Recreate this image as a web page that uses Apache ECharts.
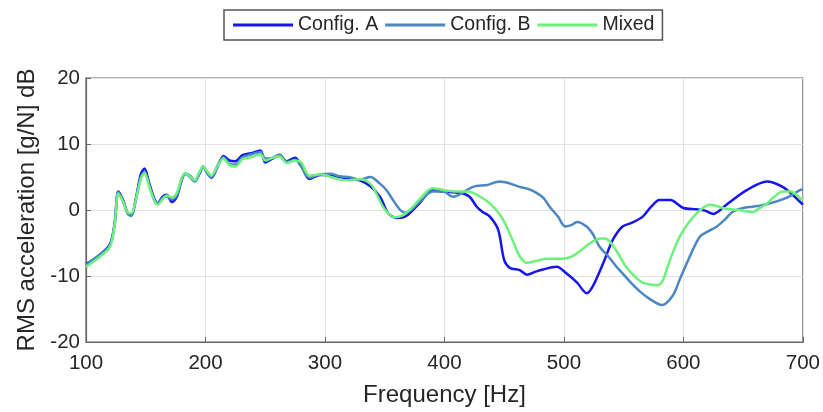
<!DOCTYPE html>
<html>
<head>
    <meta charset="utf-8">
    <title>RMS acceleration</title>
    <script src="https://cdn.jsdelivr.net/npm/echarts@6/dist/echarts.min.js"></script>
</head>
<body style="margin:0;background:#fff">

    <div id="chart" style="width:823px;height:412px;"></div>

    <script type="text/javascript">

        // Config. A
        var freqA = [100,110,120,124,127,131,135,138,142,146,149,153,157,160,164,167.5,172,176,180,183,187,191,195,198,202,205,210,215,220,225,231,238,246,250,256,262,268,275,280,287,296,305,312,320,329,338,346,353,360,368,379,390,399,413,421,427,432,438,445,450,455,463,469,477,494,502,511,519,524,533,541,549,556,566,573,580,589,600,611,618,625,636,653,670,683,692,700];
        var valA = [-8.2,-7,-5.2,-2,2.8,1.5,-0.5,-0.8,2,5.5,6.3,4,1.8,1,2,2.3,1.2,2,4.5,5.5,5.2,4.4,5.5,6.6,5.5,4.9,6.5,8.2,7.5,7.4,8.3,8.6,9,7.2,7.8,8.3,7.4,7.9,6.8,4.7,5.3,5.3,5,4.8,4.5,3.6,2,-0.5,-1.2,-0.9,1,3,2.8,2.6,2,0.5,-0.3,-1,-3,-7.6,-8.8,-9.1,-9.8,-9.3,-8.6,-9.6,-11,-12.6,-11.6,-8,-4.5,-2.5,-2,-1,0.5,1.5,1.5,0.3,0.1,-0.1,-0.6,0.8,3,4.3,3.5,2.2,0.8];

        // Config. B
        var freqB = [100,110,120,124,127,131,135,138,142,146,149,153,157,160,164,167.5,172,176,180,183,187,191,195,198,202,205,210,215,220,225,231,238,246,250,256,262,268,275,280,287,296,305,312,320,329,338,346,351.5,357,363,367,372,379.5,390,399,407,413,424,436,446,455,463,470,477,483,488,495,501,506,511,519,524,530,537,544,550,556,564,572,582,591,597,603,608,614,621,628,635,641,650,658,668,678,688,697.5,700];
        var valB = [-8.3,-7,-5.3,-2,2.7,1.3,-0.6,-0.9,1.8,5,5.8,3.8,1.5,0.9,1.8,2.1,1.6,2.2,4.6,5.5,5,4.3,5.6,6.5,5.4,5,6.7,8,7,6.9,8,8.4,8.8,7.8,7.9,8.4,7.3,7.6,6.6,4.9,5.4,5.5,5.1,5,4.6,5,4,3,1.5,0,-0.4,0,1.3,2.8,2.8,2,2.4,3.5,3.8,4.3,4,3.5,3.2,2.6,1.8,0.5,-1,-2.5,-2.3,-1.8,-2.5,-3.6,-5.6,-7,-8.6,-9.8,-11,-12.4,-13.5,-14.4,-13,-10.5,-8,-6,-4,-3.2,-2.5,-1.4,-0.3,0.3,0.5,0.8,1.3,2,3,3.1];

        // Mixed
        var freqM = [100,110,120,124,127,131,135,138,142,146,149,153,157,160,164,167.5,172,176,180,183,187,191,195,198,202,205,210,215,220,225,231,238,246,250,256,262,268,275,280,287,296,305,312,320,329,338,343,348.5,353,358.5,365,372,380,390,400,410,418.5,424,430,438,446,452,458,463,469,477,485.5,494,502,508,513,519,524,530,534,538.5,545,552,560,566,572,578.7,583,586,591,597,604,611,617,622,628,633,640,647,652,658,664,670,676,683,690,697.5,700];
        var valM = [-8.6,-7.3,-5.6,-2.3,2.5,1.3,-0.4,-0.5,1.8,4.8,5.6,3.5,1.5,0.8,1.6,2.2,1.9,2.6,4.8,5.6,5.1,4.5,5.8,6.6,5.7,5.2,6.6,7.8,6.8,6.6,7.7,8,8.4,7.5,7.9,8.1,7.1,7.5,7.2,5.2,5.4,5,4.6,4.5,4.7,4,2.5,0.5,-0.5,-1.1,-0.8,0.2,1.8,3.3,3,2.8,2.8,2.6,2,1,-0.6,-2.5,-5,-7,-8,-7.7,-7.4,-7.4,-7.3,-6.9,-6.3,-5.4,-4.8,-4.3,-4.3,-4.8,-6.5,-8.6,-10.2,-11,-11.3,-11.4,-10.6,-9,-6.5,-4,-2,-0.5,0.4,0.8,0.6,0.3,0.1,0,-0.2,-0.3,0.3,1,2,2.8,2.8,1.8,1.5];

        var xTicks = [100, 200, 300, 400, 500, 600, 700];
        var yTicks = [-20, -10, 0, 10, 20];

        function pairs(f, v) {
            var out = [];
            for (var i = 0; i < f.length; i++) out.push([f[i], v[i]]);
            return out;
        }

        var font = '"Liberation Sans", Arial, sans-serif';
        var myChart = echarts.init(document.getElementById('chart'));

        myChart.setOption({
            animation: false,
            textStyle: { fontFamily: font },
            legend: {
                left: 224,
                top: 10,
                padding: [5, 8, 5, 9],
                itemGap: 7,
                itemWidth: 60,
                itemHeight: 3,
                icon: 'rect',
                borderColor: '#555',
                borderWidth: 1.5,
                textStyle: { fontSize: 19.5, color: '#262626', fontFamily: font }
            },
            grid: {
                left: 86, right: 20, top: 78, bottom: 70,
                show: true, borderColor: '#666', borderWidth: 1.2
            },
            xAxis: {
                type: 'value',
                min: xTicks[0], max: xTicks[xTicks.length - 1], interval: 100,
                name: 'Frequency [Hz]',
                nameLocation: 'middle',
                nameGap: 41,
                nameTextStyle: { fontSize: 24, color: '#262626' },
                axisLine: { onZero: false, lineStyle: { color: '#666', width: 1.2 } },
                axisTick: { inside: true, length: 5, lineStyle: { color: '#666' } },
                axisLabel: { fontSize: 20.5, color: '#262626', margin: 11 },
                splitLine: { lineStyle: { color: '#e3e3e3' } }
            },
            yAxis: {
                type: 'value',
                min: yTicks[0], max: yTicks[yTicks.length - 1], interval: 10,
                name: 'RMS acceleration [g/N] dB',
                nameLocation: 'middle',
                nameGap: 44,
                nameTextStyle: { fontSize: 24, color: '#262626' },
                axisLine: { show: true, onZero: false, lineStyle: { color: '#666', width: 1.2 } },
                axisTick: { show: true, inside: true, length: 5, lineStyle: { color: '#666' } },
                axisLabel: { fontSize: 20.5, color: '#262626', margin: 6 },
                splitLine: { lineStyle: { color: '#e3e3e3' } }
            },
            series: [
                {
                    name: 'Config. A', type: 'line', showSymbol: false, symbol: 'none', smooth: 0.3,
                    lineStyle: { width: 2.5, color: '#1515ee' }, itemStyle: { color: '#1515ee' },
                    data: pairs(freqA, valA)
                },
                {
                    name: 'Config. B', type: 'line', showSymbol: false, symbol: 'none', smooth: 0.3,
                    lineStyle: { width: 2.5, color: '#4b87c2' }, itemStyle: { color: '#4b87c2' },
                    data: pairs(freqB, valB)
                },
                {
                    name: 'Mixed', type: 'line', showSymbol: false, symbol: 'none', smooth: 0.3,
                    lineStyle: { width: 2.5, color: '#6cf27a' }, itemStyle: { color: '#6cf27a' },
                    data: pairs(freqM, valM)
                }
            ]
        });

    </script>

</body>
</html>
